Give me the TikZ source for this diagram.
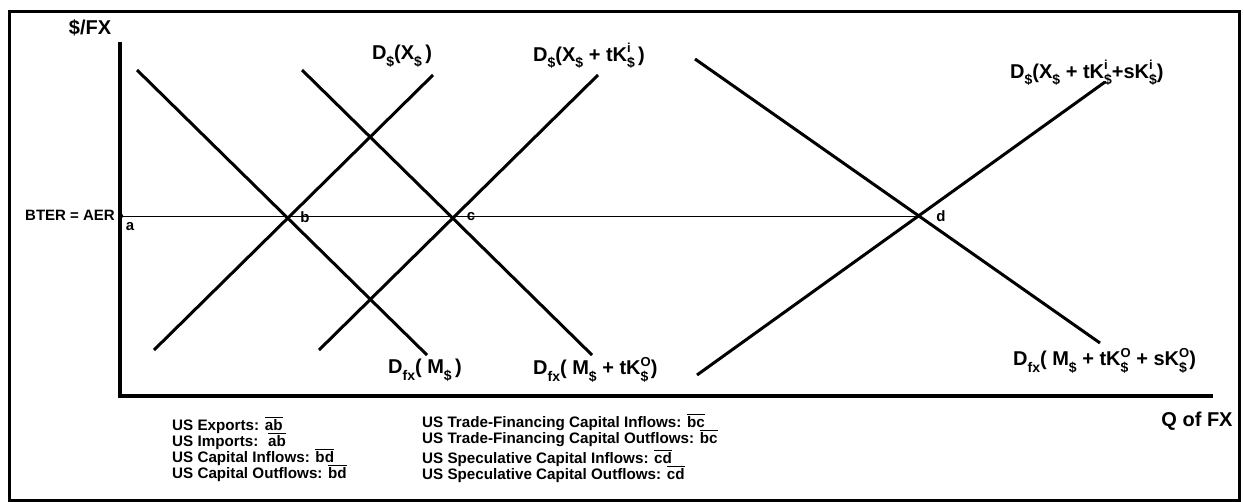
\documentclass[tikz,border=0pt]{standalone}
\usepackage{fontspec}
\usepackage{amsmath}
\setmainfont{Liberation Sans}
\newcommand{\lsub}[1]{\raisebox{-0.33em}{\fontsize{14}{14}\selectfont #1}}
\newcommand{\lsupsub}[2]{\begingroup\setbox0\hbox{\fontsize{13}{13}\selectfont #1}\setbox2\hbox{\fontsize{14}{14}\selectfont #2}\dimen0=\wd0 \ifdim\wd2>\dimen0 \dimen0=\wd2\fi\rlap{\raisebox{0.42em}{\box0}}\rlap{\raisebox{-0.33em}{\box2}}\hspace{\dimen0}\endgroup}
\newcommand{\seg}[1]{\ensuremath{\overline{\text{#1}}}}
\begin{document}
\begin{tikzpicture}[x=1pt,y=-1pt,
  curve/.style={line width=3pt},
  axisline/.style={line width=4pt},
  level/.style={line width=0.9pt},
  lbl/.style={font=\bfseries\fontsize{20}{22}\selectfont, inner sep=0pt},
  small/.style={font=\bfseries\fontsize{15}{17}\selectfont, inner sep=0pt},
  ptlbl/.style={font=\bfseries\fontsize{15}{16}\selectfont, inner sep=0pt},
  note/.style={font=\bfseries\fontsize{15.2}{17}\selectfont, anchor=west, inner sep=0pt}]
\useasboundingbox (0,0) rectangle (1244,501);
\draw[line width=3pt] (9,11) rectangle (1239,500);
% axes
\coordinate (ytop) at (120,42);
\coordinate (origin) at (120,396);
\coordinate (xend) at (1213,396);
\draw[axisline] (ytop) -- (origin) -- (xend);
% level points
\coordinate (a) at (121,216);
\coordinate (b) at (287,216);
\coordinate (c) at (452,216);
\coordinate (d) at (920,216);
\draw[level] (a) -- (d);
\fill (a) circle (2.2);
% demand lines (fx)
\coordinate (m1s) at (137,70);  \coordinate (m1e) at (427,355);
\coordinate (m2s) at (302,70);  \coordinate (m2e) at (592,355);
\coordinate (m3s) at (695,59);  \coordinate (m3e) at (1100,343);
\draw[curve] (m1s) -- (m1e);
\draw[curve] (m2s) -- (m2e);
\draw[curve] (m3s) -- (m3e);
% demand lines ($)
\coordinate (x1s) at (154,350); \coordinate (x1e) at (433,75);
\coordinate (x2s) at (319,350); \coordinate (x2e) at (598,75);
\coordinate (x3s) at (697,375); \coordinate (x3e) at (1105,82);
\draw[curve] (x1s) -- (x1e);
\draw[curve] (x2s) -- (x2e);
\draw[curve] (x3s) -- (x3e);
% labels
\node[lbl] (yl) at (90,28) {\$/FX};
\node[lbl] (xl) at (1197,421) {Q of FX};
\node[small, anchor=east] (bter) at (115,215) {BTER = AER};
\node[ptlbl] (la) at (130,227) {a};
\node[ptlbl] (lb) at (305,217) {b};
\node[ptlbl] (lc) at (471,217) {c};
\node[ptlbl] (ld) at (941,216) {d};
\node[lbl] (lx1) at (402,56) {D\lsub{\$}(X\lsub{\$}\,)};
\node[lbl, anchor=west] (lx2) at (533,56) {D\lsub{\$}(X\lsub{\$} + tK\lsupsub{i}{\$}\,)};
\node[lbl, anchor=west] (lx3) at (1010,73) {D\lsub{\$}(X\lsub{\$} + tK\lsupsub{i}{\$}+sK\lsupsub{i}{\$})};
\node[lbl, anchor=west] (lm1) at (388,370) {D\lsub{fx}( M\lsub{\$}\,)};
\node[lbl, anchor=west] (lm2) at (533,370) {D\lsub{fx}( M\lsub{\$} + tK\lsupsub{O}{\$})};
\node[lbl, anchor=west] (lm3) at (1013,361) {D\lsub{fx}( M\lsub{\$} + tK\lsupsub{O}{\$} + sK\lsupsub{O}{\$})};
% notes
\node[note] (n1) at (172,425) {US Exports: \seg{ab}};
\node[note] (n2) at (172,441) {US Imports: \ \seg{ab}};
\node[note] (n3) at (172,457) {US Capital Inflows: \seg{bd}};
\node[note] (n4) at (172,473) {US Capital Outflows: \seg{bd}};
\node[note] (n5) at (422,422) {US Trade-Financing Capital Inflows: \seg{bc}};
\node[note] (n6) at (422,438) {US Trade-Financing Capital Outflows: \seg{bc}};
\node[note] (n7) at (422,458) {US Speculative Capital Inflows: \seg{cd}};
\node[note] (n8) at (422,474) {US Speculative Capital Outflows: \seg{cd}};
\end{tikzpicture}
\end{document}
